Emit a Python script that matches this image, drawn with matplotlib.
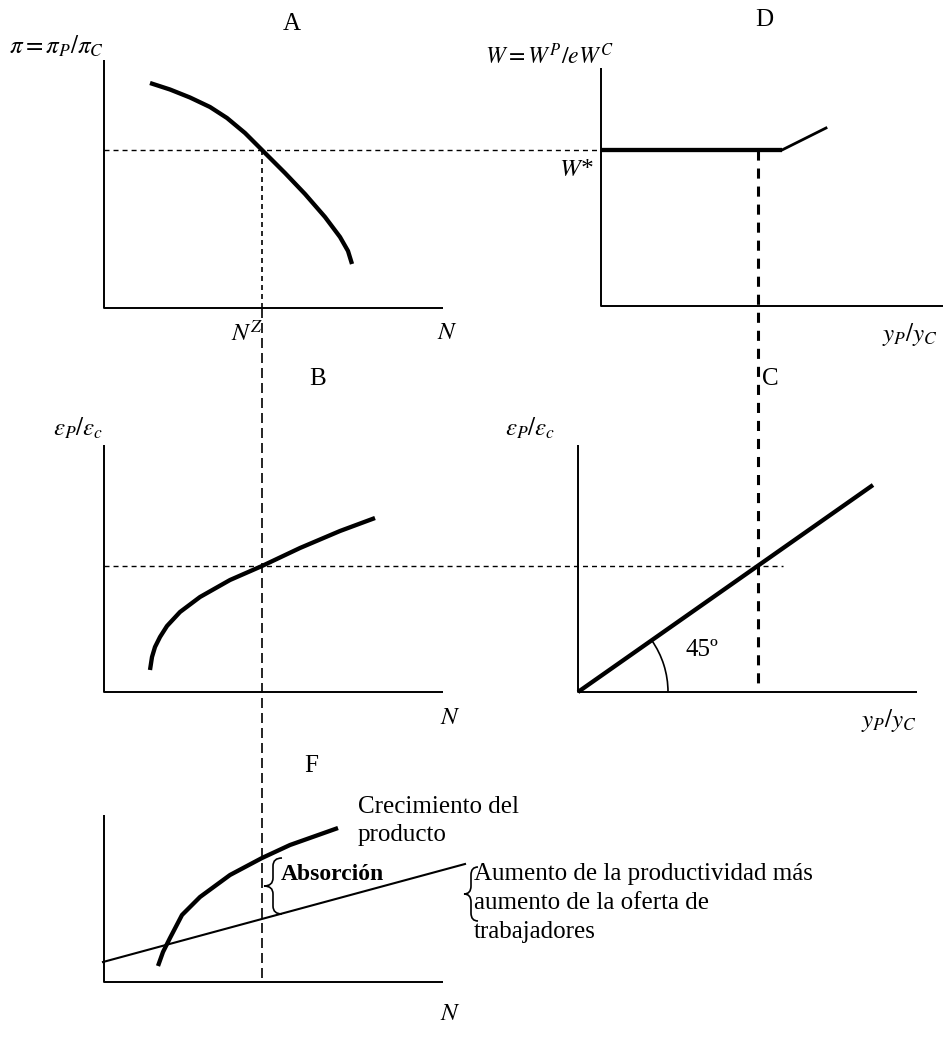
import numpy as np
import matplotlib.pyplot as plt
from matplotlib.patches import Arc, PathPatch
from matplotlib.path import Path

plt.rcParams['font.family'] = ['Liberation Serif', 'DejaVu Serif']
plt.rcParams['mathtext.fontset'] = 'stix'

# the sketch is drawn on one canvas measured in pixels of the original page
# panel A: relative profit curve
a_x = [150, 170, 190, 210, 227, 245, 262, 285, 305, 325, 340, 348, 352]
a_y = [83, 89.5, 97.5, 107, 118, 133, 150, 173, 194, 217, 237, 251, 264]
# panel D: wage curve (flat, then rising)
d_x = [601, 782, 826]
d_y = [150, 150, 128]
# panel B: relative employment curve
b_x = [150, 152, 155, 160, 167, 180, 200, 230, 262, 300, 340, 375]
b_y = [670, 657, 647, 637, 626, 612, 597, 580, 566, 548, 531, 518]
# panel C: 45 degree line
c_x = [578, 873]
c_y = [692, 485]
# panel F: product growth and productivity + labour supply
f_curve_x = [158, 163, 170, 182, 200, 230, 262, 290, 338]
f_curve_y = [966, 952, 938, 915, 897, 875, 858, 845, 828]
f_line_x = [103, 465]
f_line_y = [962, 864]

# equilibrium guides
n_z = 262
w_star = 150
eps_star = 566
y_star = 758
f_base = 982

fig = plt.figure(figsize=(9.43, 10.44), dpi=100)
ax = fig.add_axes([0, 0, 1, 1])
ax.set_xlim(0, 943)
ax.set_ylim(1044, 0)
ax.axis('off')

axis_kw = dict(color='black', lw=1.4, solid_capstyle='butt')
thick_kw = dict(color='black', lw=3.1, solid_capstyle='butt', solid_joinstyle='round')

# axes of the five panels
for x0, ytop, ybot, xright in [(104, 60, 308, 443), (601, 68, 306, 943),
                               (104, 445, 692, 443), (578, 445, 692, 917),
                               (104, 815, f_base, 443)]:
    ax.plot([x0, x0, xright], [ytop, ybot, ybot], **axis_kw)

# curves
ax.plot(a_x, a_y, **thick_kw)
ax.plot(d_x[:2], d_y[:2], **thick_kw)
ax.plot(d_x[1:], d_y[1:], color='black', lw=2.0)
ax.plot(b_x, b_y, **thick_kw)
ax.plot(c_x, c_y, **thick_kw)
ax.plot(f_curve_x, f_curve_y, **thick_kw)
ax.plot(f_line_x, f_line_y, color='black', lw=1.5)

# dashed guides
ax.plot([104, 601], [w_star, w_star], color='black', lw=1.0, dashes=(3.6, 2.9))
ax.plot([n_z, n_z], [w_star, 308], color='black', lw=1.2, dashes=(3, 2.4))
ax.plot([n_z, n_z], [308, f_base], color='black', lw=1.2, dashes=(6, 3))
ax.plot([104, 783], [eps_star, eps_star], color='black', lw=1.0, dashes=(3.6, 2.9))
ax.plot([y_star, y_star], [w_star, 690], color='black', lw=2.2, dashes=(3.3, 2.6))

# 45 degree arc
ang = np.degrees(np.arctan2(c_y[0] - c_y[1], c_x[1] - c_x[0]))
ax.add_patch(Arc((578, 692), 180, 180, theta1=-ang, theta2=0, color='black', lw=1.2))


def brace(x, y0, y1, w):
    ym = (y0 + y1) / 2
    r = min(8, (y1 - y0) / 4)
    verts = [(x + w, y0), (x, y0), (x, y0 + r), (x, ym - r), (x, ym), (x - w, ym),
             (x, ym), (x, ym + r), (x, y1 - r), (x, y1), (x + w, y1)]
    codes = [Path.MOVETO, Path.CURVE3, Path.CURVE3, Path.LINETO, Path.CURVE3, Path.CURVE3,
             Path.CURVE3, Path.CURVE3, Path.LINETO, Path.CURVE3, Path.CURVE3]
    ax.add_patch(PathPatch(Path(verts, codes), fill=False, color='black', lw=1.2))


brace(273, 858, 914, 9)
brace(471, 867, 921, 7)

fs = 18
ax.text(292, 24, 'A', fontsize=fs, ha='center', va='center')
ax.text(764, 20, 'D', fontsize=fs, ha='center', va='center')
ax.text(318, 379, 'B', fontsize=fs, ha='center', va='center')
ax.text(770, 379, 'C', fontsize=fs, ha='center', va='center')
ax.text(311, 766, 'F', fontsize=fs, ha='center', va='center')

ax.text(9, 46, r'$\pi = \pi_P/\pi_C$', fontsize=fs, ha='left', va='center')
ax.text(614, 56, r'$W = W^P/eW^C$', fontsize=fs - 1, ha='right', va='center')
ax.text(594, 170, r'$W$*', fontsize=fs, ha='right', va='center', style='italic')
ax.text(247, 333, r'$N^Z$', fontsize=fs, ha='center', va='center')
ax.text(447, 333, r'$N$', fontsize=fs, ha='center', va='center')
ax.text(938, 335, r'$y_P/y_C$', fontsize=fs, ha='right', va='center')
ax.text(78, 428, r'$\varepsilon_P/\varepsilon_c$', fontsize=fs, ha='center', va='center')
ax.text(530, 428, r'$\varepsilon_P/\varepsilon_c$', fontsize=fs, ha='center', va='center')
ax.text(450, 718, r'$N$', fontsize=fs, ha='center', va='center')
ax.text(917, 720, r'$y_P/y_C$', fontsize=fs, ha='right', va='center')
ax.text(686, 650, '45º', fontsize=fs, ha='left', va='center')
ax.text(450, 1014, r'$N$', fontsize=fs, ha='center', va='center')

ax.text(358, 821, 'Crecimiento del\nproducto', fontsize=fs, ha='left', va='center',
        linespacing=1.3)
ax.text(281, 875, 'Absorción', fontsize=fs - 1, ha='left', va='center', weight='bold')
ax.text(474, 903, 'Aumento de la productividad más\naumento de la oferta de\ntrabajadores',
        fontsize=fs, ha='left', va='center', linespacing=1.42)

fig.savefig('out.png', dpi=100)
